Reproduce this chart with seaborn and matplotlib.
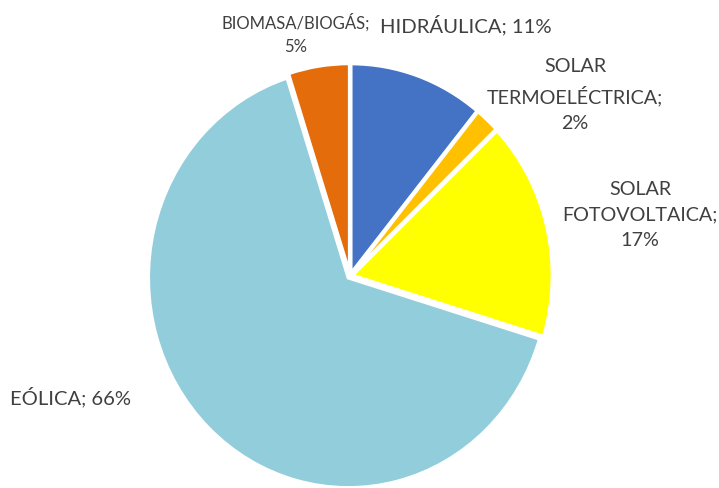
import matplotlib
matplotlib.use("Agg")
import matplotlib.pyplot as plt
import seaborn as sns

# datos (porcentaje de cada fuente)
fuentes = ["HIDRÁULICA", "SOLAR\nTERMOELÉCTRICA", "SOLAR\nFOTOVOLTAICA", "EÓLICA", "BIOMASA/BIOGÁS"]
porcentajes = [11, 2, 17, 66, 5]
colores = ["#4472C4", "#FFC000", "#FFFF00", "#92CDDC", "#E46C0A"]

# etiquetas: separador y posicion (layout)
separadores = [" ", "\n", "\n", " ", "\n"]
pos_etiquetas = [(0.58, 1.20), (1.125, 0.867), (1.45, 0.295), (-1.395, -0.571), (-0.27, 1.157)]
tam_etiquetas = [14.6, 14.2, 14.2, 14.5, 12]

sns.set_theme(style="white")
plt.rcParams["font.family"] = ["Lato", "DejaVu Sans"]

fig = plt.figure(figsize=(7.19, 4.89), dpi=100)
ax = fig.add_axes([0, 0, 1, 1])

ax.pie(porcentajes, colors=colores, startangle=90, counterclock=False,
       explode=[0.012] * len(porcentajes),
       wedgeprops=dict(edgecolor="white", linewidth=2.5))

for f, p, sep, (x, y), fs in zip(fuentes, porcentajes, separadores, pos_etiquetas, tam_etiquetas):
    ax.text(x, y, f"{f};{sep}{p}%", ha="center", va="center", fontsize=fs,
            color="#404040", linespacing=1.6)

# circulo algo estirado en vertical, como en el original
ax.set_aspect("auto")
ax.set_xlim(-1.75, 1.845)
ax.set_ylim(-1.0095, 1.319)
ax.axis("off")

fig.savefig("out.png", dpi=100)
